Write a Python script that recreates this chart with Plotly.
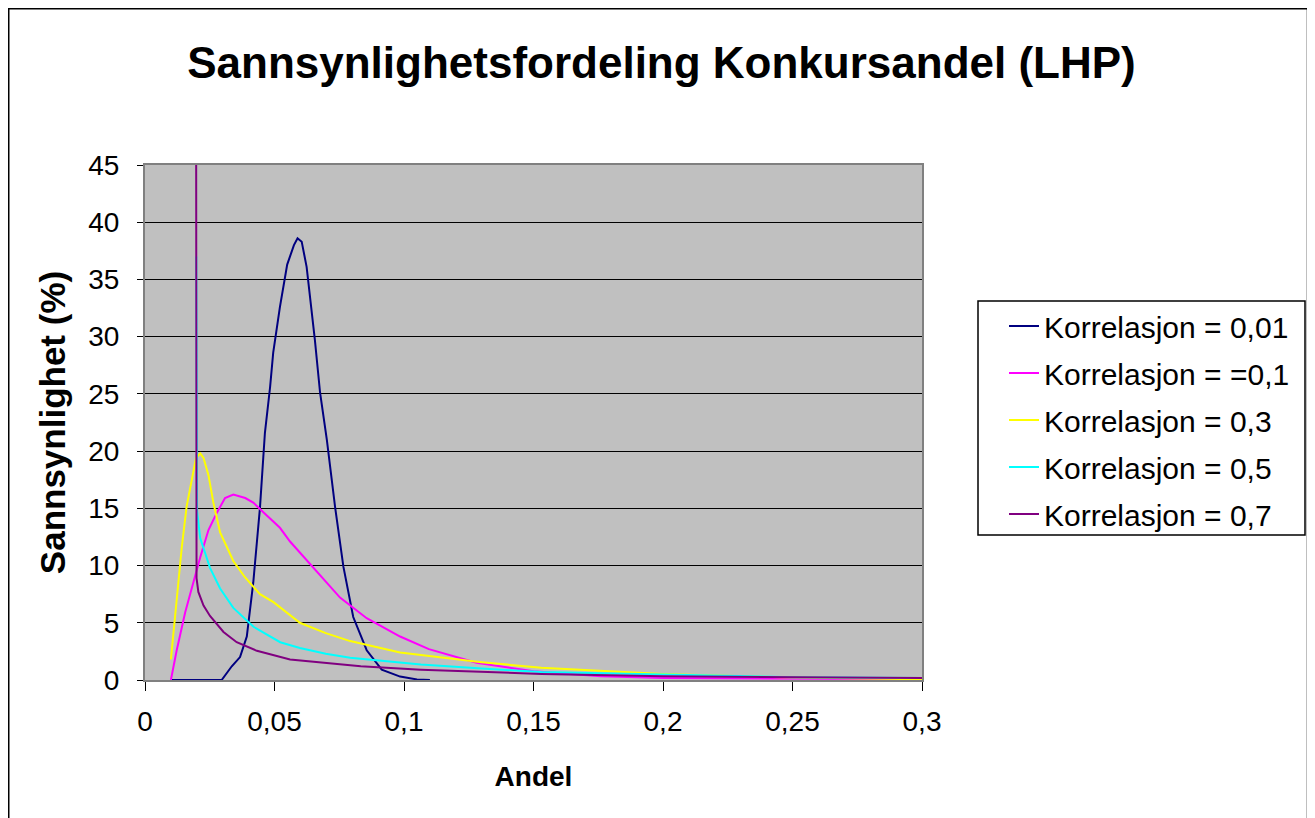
import plotly.graph_objects as go

# ---- data ----
series_names = ["Korrelasjon = 0,01", "Korrelasjon = =0,1", "Korrelasjon = 0,3",
                "Korrelasjon = 0,5", "Korrelasjon = 0,7"]
series_colors = ["#000080", "#FF00FF", "#FFFF00", "#00FFFF", "#800080"]

x_r001 = [0.01, 0.015, 0.02, 0.025, 0.0296, 0.0335, 0.0367, 0.0393, 0.0418, 0.0444, 0.0463,
          0.0483, 0.0495, 0.0521, 0.0549, 0.0575, 0.0589, 0.0605, 0.0624, 0.0656, 0.0676,
          0.0702, 0.0734, 0.0766, 0.0804, 0.0856, 0.0914, 0.0985, 0.105, 0.11]
y_r001 = [0, 0, 0, 0, 0, 1.2, 2.0, 3.8, 8.5, 15.1, 21.6,
          25.6, 28.6, 32.6, 36.3, 38.0, 38.6, 38.3, 36.1, 29.7, 25.1,
          21.0, 15.1, 9.9, 5.5, 2.6, 0.9, 0.3, 0.05, 0]

x_r01 = [0.01, 0.0122, 0.0155, 0.0187, 0.0213, 0.0245, 0.0277, 0.0309, 0.0341, 0.0387,
         0.0418, 0.046, 0.0521, 0.056, 0.065, 0.0753, 0.0856, 0.0985, 0.1096, 0.128,
         0.15, 0.176, 0.2, 0.25, 0.3]
y_r01 = [0, 2.55, 5.9, 8.6, 10.7, 13.1, 14.6, 15.9, 16.2, 15.9,
         15.5, 14.6, 13.3, 12.1, 9.8, 7.2, 5.4, 3.8, 2.7, 1.5,
         0.76, 0.32, 0.18, 0.1, 0.08]

x_r03 = [0.01, 0.0122, 0.0142, 0.0161, 0.018, 0.0197, 0.0213, 0.0226, 0.0245, 0.0264,
         0.029, 0.0316, 0.0341, 0.0385, 0.0444, 0.0496, 0.0598, 0.0698, 0.0792, 0.0985,
         0.1065, 0.13, 0.153, 0.2, 0.246, 0.3]
y_r03 = [1.8, 7.1, 11.6, 15.2, 17.3, 19.4, 19.8, 19.4, 17.9, 15.5,
         12.9, 11.6, 10.4, 9.0, 7.5, 6.8, 5.0, 4.1, 3.4, 2.4,
         2.2, 1.56, 1.06, 0.53, 0.24, 0.06]

x_r05 = [0.0198, 0.0201, 0.0213, 0.0251, 0.029, 0.0341, 0.0419, 0.047, 0.0522, 0.0598,
         0.0698, 0.0792, 0.0985, 0.1065, 0.13, 0.153, 0.2, 0.235, 0.25, 0.3]
y_r05 = [37, 14.8, 12.4, 9.8, 8.0, 6.3, 4.65, 4.0, 3.3, 2.8,
         2.3, 1.95, 1.5, 1.35, 1.0, 0.7, 0.47, 0.3, 0.25, 0.18]

x_r07 = [0.0197, 0.0199, 0.0206, 0.0226, 0.0251, 0.0303, 0.0354, 0.0432, 0.056, 0.0754,
         0.0833, 0.1065, 0.153, 0.2, 0.25, 0.3]
y_r07 = [60, 8.9, 7.7, 6.5, 5.6, 4.2, 3.3, 2.55, 1.8, 1.35,
         1.2, 0.9, 0.53, 0.32, 0.22, 0.18]

x_tick_vals = [0, 0.05, 0.1, 0.15, 0.2, 0.25, 0.3]
x_tick_text = ["0", "0,05", "0,1", "0,15", "0,2", "0,25", "0,3"]
y_tick_vals = [0, 5, 10, 15, 20, 25, 30, 35, 40, 45]

xs = [x_r001, x_r01, x_r03, x_r05, x_r07]
ys = [y_r001, y_r01, y_r03, y_r05, y_r07]

FONT = "Liberation Sans, Arial, sans-serif"

# figure is placed by the page at an 8px body offset
W, H = 1307, 810
L, R, T, B = 137, 393, 157, 138
PW, PH = W - L - R, H - T - B


def px(fx):
    return (fx - L) / PW


def py(fy):
    return (H - B - fy) / PH


fig = go.Figure()
for i, (name, color, x, y) in enumerate(zip(series_names, series_colors, xs, ys)):
    fig.add_trace(go.Scatter(x=x, y=y, mode="lines", name=name, legendgroup=str(i),
                             line=dict(color=color, width=2)))

fig.update_layout(
    width=W, height=H,
    paper_bgcolor="white", plot_bgcolor="#C0C0C0",
    margin=dict(l=L, r=R, t=T, b=B),
    font=dict(family=FONT, color="black", size=28),
    title=dict(text="<b>Sannsynlighetsfordeling Konkursandel (LHP)</b>",
               x=0.5, xref="container", xanchor="center", y=0.933, yanchor="middle",
               font=dict(size=44, family=FONT)),
    showlegend=True,
    legend=dict(x=px(996), y=py(292), xanchor="left", yanchor="top",
                bgcolor="rgba(0,0,0,0)", borderwidth=0,
                font=dict(size=30, family=FONT), tracegroupgap=5),
    xaxis=dict(range=[0, 0.3], tickvals=x_tick_vals, ticktext=x_tick_text,
               showgrid=False, zeroline=False, showline=True, linecolor="#808080",
               linewidth=2, mirror=True, ticks="outside", ticklen=9, tickcolor="black",
               ticklabelstandoff=6,
               title=dict(text="<b>Andel</b>", font=dict(size=28), standoff=31)),
    yaxis=dict(range=[0, 45], tickvals=y_tick_vals, showgrid=True, gridcolor="black",
               gridwidth=1, zeroline=False, showline=True, linecolor="#808080",
               linewidth=2, mirror=True, ticks="outside", ticklen=6, tickcolor="black",
               ticklabelstandoff=12,
               title=dict(text="<b>Sannsynlighet (%)</b>", font=dict(size=35), standoff=12)),
    shapes=[
        dict(type="rect", xref="paper", yref="paper",
             x0=px(0.75), x1=px(1299.5), y0=py(900), y1=py(0.75),
             line=dict(color="black", width=1.5), fillcolor="rgba(0,0,0,0)", layer="below"),
        dict(type="rect", xref="paper", yref="paper",
             x0=px(970), x1=px(1297), y0=py(527), y1=py(293),
             line=dict(color="black", width=1.5), fillcolor="white", layer="below"),
    ],
)

fig.write_html("out.html")
